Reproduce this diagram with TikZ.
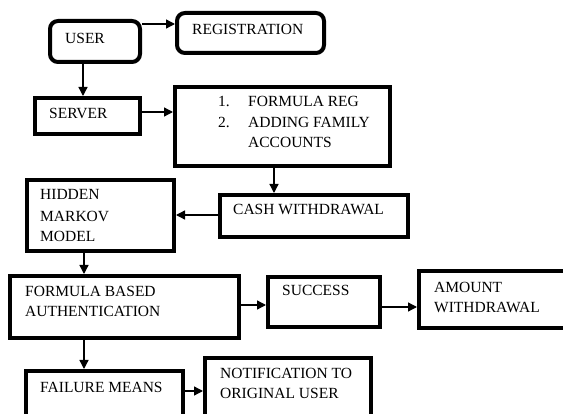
\documentclass[tikz,border=0pt]{standalone}
\usepackage{fontspec}
\setmainfont{Liberation Serif}
\usetikzlibrary{arrows.meta}
\begin{document}
\begin{tikzpicture}[x=1pt,y=-1pt,
  box/.style={draw=black,line width=4pt,rectangle,inner sep=0pt,fill=white},
  rbox/.style={box,rounded corners=8pt},
  lbl/.style={anchor=base west,inner sep=0pt,font=\fontsize{15.5}{18}\selectfont},
  arr/.style={line width=1.3pt,-{Triangle[length=9pt,width=9pt]}}]
\path[use as bounding box] (0,0) rectangle (563,414);
\clip (0,0) rectangle (563,414);
% boxes
\node[rbox,minimum width=90pt,minimum height=41pt] (user) at (95,41.5) {};
\node[rbox,minimum width=147pt,minimum height=40pt] (reg) at (250.5,33) {};
\node[box,minimum width=105pt,minimum height=36pt] (server) at (87.5,116) {};
\node[box,minimum width=215pt,minimum height=79pt] (formula) at (282.5,126.5) {};
\node[box,minimum width=188pt,minimum height=42pt] (cash) at (314,216) {};
\node[box,minimum width=147pt,minimum height=71pt] (hmm) at (100.5,215.5) {};
\node[box,minimum width=229pt,minimum height=62pt] (fba) at (124.5,307) {};
\node[box,minimum width=112pt,minimum height=50pt] (success) at (324,302) {};
\node[box,minimum width=169pt,minimum height=57pt] (amount) at (503.5,299.5) {};
\node[box,minimum width=157pt,minimum height=57pt] (failure) at (104.5,399.5) {};
\node[box,minimum width=166pt,minimum height=70pt] (notif) at (288,393) {};
% labels
\node[lbl] (tuser) at (65,44) {USER};
\node[lbl] (treg) at (192,35) {REGISTRATION};
\node[lbl] (tserver) at (49,119) {SERVER};
\node[lbl] (tf1n) at (218,107) {1.};
\node[lbl] (tf1) at (248,107) {FORMULA REG};
\node[lbl] (tf2n) at (218,128) {2.};
\node[lbl] (tf2) at (248,128) {ADDING FAMILY};
\node[lbl] (tf3) at (248,148) {ACCOUNTS};
\node[lbl] (tcash) at (233,215) {CASH WITHDRAWAL};
\node[lbl] (th1) at (40,200) {HIDDEN};
\node[lbl] (th2) at (40,222) {MARKOV};
\node[lbl] (th3) at (40,242) {MODEL};
\node[lbl] (tfb1) at (25,297) {FORMULA BASED};
\node[lbl] (tfb2) at (25,317) {AUTHENTICATION};
\node[lbl] (tsucc) at (282,296) {SUCCESS};
\node[lbl] (tam1) at (434,293) {AMOUNT};
\node[lbl] (tam2) at (434,313) {WITHDRAWAL};
\node[lbl] (tfail) at (40,392) {FAILURE MEANS};
\node[lbl] (tn1) at (220,379) {NOTIFICATION TO};
\node[lbl] (tn2) at (220,399) {ORIGINAL USER};
% connectors
\draw[arr] (user.east |- 0,24) -- (reg.west |- 0,24);
\draw[arr] (user.south -| 83,0) -- (server.north -| 83,0);
\draw[arr] (server.east |- 0,112) -- (formula.west |- 0,112);
\draw[arr] (formula.south -| 274,0) -- (cash.north -| 274,0);
\draw[arr] (cash.west |- 0,215) -- (hmm.east |- 0,215);
\draw[arr] (hmm.south -| 84,0) -- (fba.north -| 84,0);
\draw[arr] (fba.east |- 0,305) -- (success.west |- 0,305);
\draw[arr] (success.east |- 0,307) -- (amount.west |- 0,307);
\draw[arr] (fba.south -| 84,0) -- (failure.north -| 84,0);
\draw[arr] (failure.east |- 0,391) -- (notif.west |- 0,391);
\end{tikzpicture}
\end{document}
